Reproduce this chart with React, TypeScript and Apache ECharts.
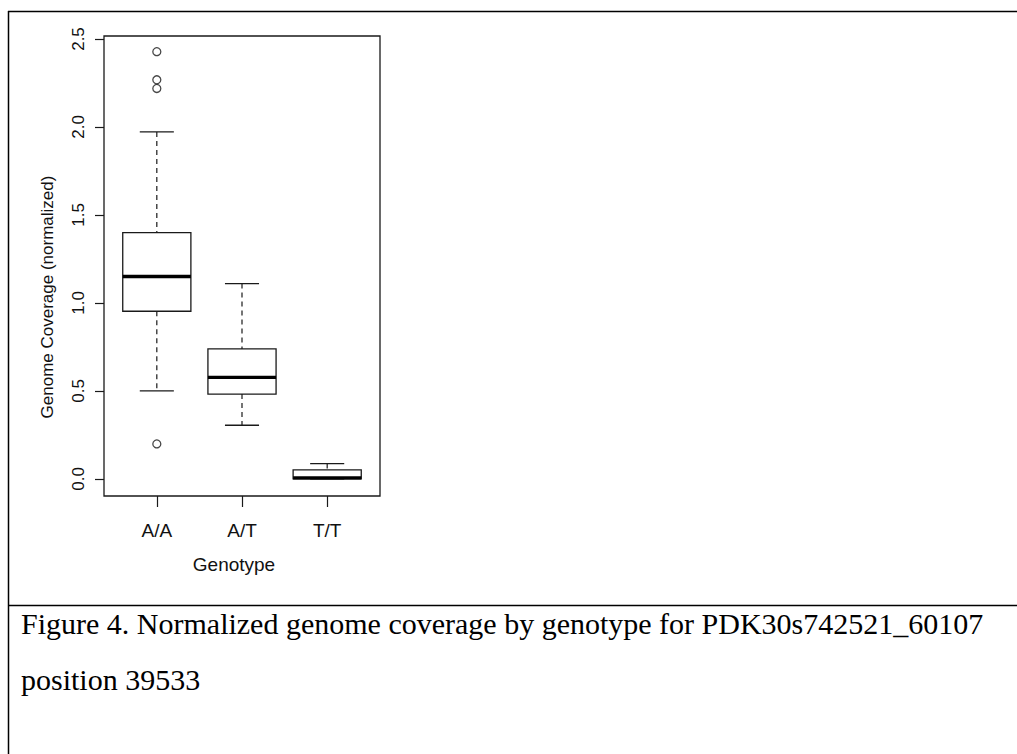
import React, { useEffect, useRef } from "react";
import * as echarts from "echarts";

// ---- data ----
const genotypes = ["A/A", "A/T", "T/T"];
const lowerWhisker = [0.5, 0.305, 0.0];
const q1 = [0.953, 0.482, 0.0];
const medians = [1.15, 0.577, 0.006];
const q3 = [1.4, 0.739, 0.051];
const upperWhisker = [1.972, 1.11, 0.087];
const outlierGroup = [1, 1, 1, 1];
const outlierValues = [2.428, 2.268, 2.219, 0.199];
const yTicks = [0, 0.5, 1, 1.5, 2, 2.5];
const xTicks = [1, 2, 3];
const captionLines = [
  "Figure 4. Normalized genome coverage by genotype for PDK30s742521_60107",
  "position 39533",
];

const INK = "#1a1a1a";
const SANS = "'Liberation Sans', Arial, Helvetica, sans-serif";
const SERIF = "'Liberation Serif', 'Times New Roman', serif";

export default function App() {
  const ref = useRef<HTMLDivElement>(null);

  useEffect(() => {
    if (!ref.current) return;
    const chart = echarts.init(ref.current, undefined, { renderer: "svg" });

    const boxData = genotypes.map((_, i) => [
      i + 1,
      lowerWhisker[i],
      q1[i],
      medians[i],
      q3[i],
      upperWhisker[i],
    ]);
    const outlierData = outlierValues.map((v, i) => [outlierGroup[i], v]);

    const renderItem = (params: any, api: any) => {
      const x = api.value(0);
      const pLow = api.coord([x, api.value(1)]);
      const pQ1 = api.coord([x, api.value(2)]);
      const pMed = api.coord([x, api.value(3)]);
      const pQ3 = api.coord([x, api.value(4)]);
      const pUp = api.coord([x, api.value(5)]);
      const halfW = api.size([0.4, 0])[0];
      const capHalf = halfW / 2;
      const cx = pMed[0];
      const dashed = { stroke: INK, lineWidth: 1.2, lineDash: [5, 4], fill: null };
      const solid = { stroke: INK, lineWidth: 1.3, fill: null };
      return {
        type: "group",
        children: [
          { type: "line", shape: { x1: cx, y1: pUp[1], x2: cx, y2: pQ3[1] }, style: dashed },
          { type: "line", shape: { x1: cx, y1: pQ1[1], x2: cx, y2: pLow[1] }, style: dashed },
          { type: "line", shape: { x1: cx - capHalf, y1: pUp[1], x2: cx + capHalf, y2: pUp[1] }, style: solid },
          { type: "line", shape: { x1: cx - capHalf, y1: pLow[1], x2: cx + capHalf, y2: pLow[1] }, style: solid },
          {
            type: "rect",
            shape: { x: cx - halfW, y: pQ3[1], width: halfW * 2, height: pQ1[1] - pQ3[1] },
            style: { fill: "#fff", stroke: INK, lineWidth: 1.3 },
          },
          {
            type: "line",
            shape: { x1: cx - halfW, y1: pMed[1], x2: cx + halfW, y2: pMed[1] },
            style: { stroke: "#000", lineWidth: 3.4 },
          },
        ],
      };
    };

    chart.setOption({
      animation: false,
      backgroundColor: "#fff",
      grid: {
        left: 104,
        top: 36,
        width: 276,
        height: 460,
        show: true,
        borderColor: INK,
        borderWidth: 1.3,
        backgroundColor: "transparent",
      },
      xAxis: {
        type: "value",
        min: 0.38,
        max: 3.62,
        axisLine: { show: false, onZero: false },
        splitLine: { show: false },
        axisTick: { show: true, customValues: xTicks, length: 11, lineStyle: { color: INK, width: 1.2 } },
        axisLabel: {
          customValues: xTicks,
          formatter: (v: number) => genotypes[Math.round(v) - 1] ?? "",
          fontSize: 19,
          color: "#111",
          fontFamily: SANS,
          margin: 25,
        },
        name: "Genotype",
        nameLocation: "middle",
        nameGap: 59,
        nameTextStyle: { fontSize: 19, color: "#111", fontFamily: SANS, padding: [0, 16, 0, 0] },
      },
      yAxis: {
        type: "value",
        min: -0.097,
        max: 2.517,
        axisLine: { show: false, onZero: false },
        splitLine: { show: false },
        axisTick: { show: true, customValues: yTicks, length: 9, lineStyle: { color: INK, width: 1.2 } },
        axisLabel: {
          customValues: yTicks,
          formatter: (v: number) => v.toFixed(1),
          rotate: 90,
          fontSize: 17,
          color: "#111",
          fontFamily: SANS,
          margin: 17,
        },
        name: "Genome Coverage (normalized)",
        nameLocation: "middle",
        nameRotate: 90,
        nameGap: 48,
        nameTextStyle: { fontSize: 17, color: "#111", fontFamily: SANS, padding: [0, 62, 0, 0] },
      },
      series: [
        {
          type: "custom",
          renderItem,
          data: boxData,
          encode: { x: 0, y: [1, 2, 3, 4, 5] },
          z: 2,
        },
        {
          type: "scatter",
          data: outlierData,
          symbol: "circle",
          symbolSize: 8,
          itemStyle: { color: "rgba(0,0,0,0)", borderColor: INK, borderWidth: 1.3 },
          z: 3,
        },
      ],
      graphic: [
        { type: "line", shape: { x1: 8, y1: 11.5, x2: 1017, y2: 11.5 }, style: { stroke: "#000", lineWidth: 1.5 } },
        { type: "line", shape: { x1: 8.5, y1: 11, x2: 8.5, y2: 754 }, style: { stroke: "#000", lineWidth: 1.5 } },
        { type: "line", shape: { x1: 8, y1: 605.5, x2: 1017, y2: 605.5 }, style: { stroke: "#000", lineWidth: 1.5 } },
        {
          type: "text",
          x: 21,
          y: 623,
          style: { text: captionLines[0], font: `30px ${SERIF}`, fill: "#000", verticalAlign: "middle", align: "left" },
        },
        {
          type: "text",
          x: 21,
          y: 679,
          style: { text: captionLines[1], font: `30px ${SERIF}`, fill: "#000", verticalAlign: "middle", align: "left" },
        },
      ],
    });

    return () => chart.dispose();
  }, []);

  return (
    <div
      ref={ref}
      style={{ position: "absolute", left: 0, top: 0, width: 1017, height: 754, background: "#fff" }}
    />
  );
}
